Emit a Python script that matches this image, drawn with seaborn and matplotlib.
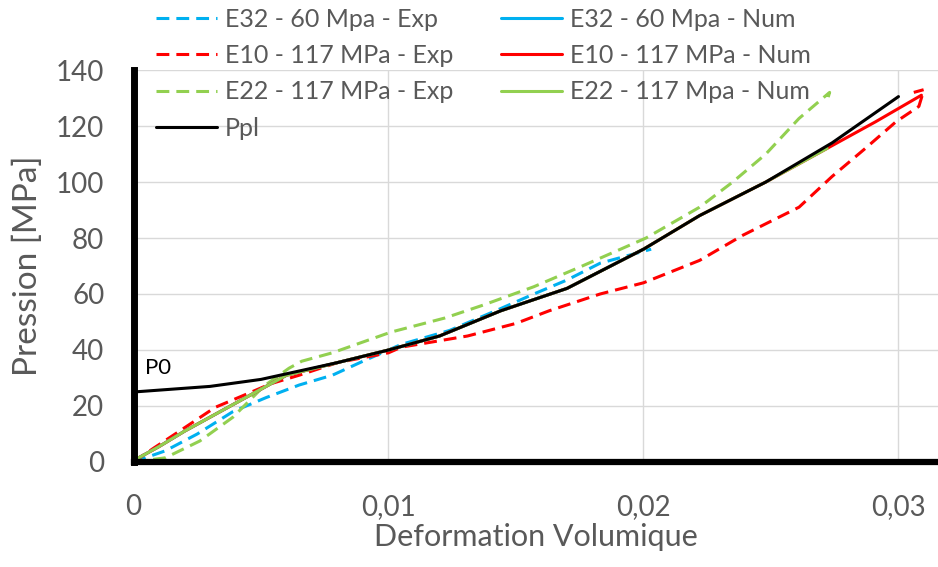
import numpy as np
import matplotlib
matplotlib.use('Agg')
import matplotlib.pyplot as plt
import seaborn as sns
from matplotlib.lines import Line2D

# --- data ---
ppl_x = [0, 0.003, 0.005, 0.0065, 0.008, 0.01, 0.012, 0.0144, 0.017, 0.02, 0.0222, 0.0248, 0.0274, 0.03]
ppl_y = [25, 27, 29.5, 32.5, 35.5, 40, 45, 54, 62, 76, 88, 100, 114, 130.5]

e32_num_x = [0, 0.001, 0.002, 0.003, 0.004, 0.005, 0.006, 0.008, 0.01, 0.012, 0.0144, 0.017, 0.02]
e32_num_y = [0.5, 5.5, 11, 16, 21, 26, 31, 35.5, 40, 45, 54, 62, 76]

e10_num_x = [0, 0.001, 0.002, 0.003, 0.004, 0.005, 0.006, 0.008, 0.01, 0.012, 0.0144, 0.017, 0.02,
             0.0222, 0.0248, 0.0274, 0.0291, 0.0309]
e10_num_y = [0.5, 5.5, 11, 16, 21, 26, 31, 35.5, 40, 45, 54, 62, 76, 88, 100, 113, 121.5, 131]

e22_num_x = [0, 0.001, 0.002, 0.003, 0.004, 0.005, 0.006, 0.008, 0.01, 0.012, 0.0144, 0.017, 0.02,
             0.0222, 0.0248, 0.0272]
e22_num_y = [0.5, 5.5, 11, 16, 21, 26, 31, 35.5, 40, 45, 54, 62, 76, 88, 100, 112]

e32_exp_x = [0, 0.00125, 0.0025, 0.0039, 0.0052, 0.0065, 0.0078, 0.009, 0.0105, 0.0124, 0.0142,
             0.0157, 0.017, 0.0183, 0.0203]
e32_exp_y = [0, 4, 10, 18, 23, 27.5, 31, 36, 42, 47, 54, 60, 65, 71, 76]

e10_exp_x = [0, 0.0008, 0.0018, 0.0032, 0.0045, 0.0054, 0.0065, 0.008, 0.01, 0.0105, 0.0131, 0.015,
             0.0163, 0.0183, 0.02, 0.0222, 0.0239, 0.0261, 0.0274, 0.0287, 0.0299, 0.0308, 0.031, 0.0306]
e10_exp_y = [0, 5, 11, 19.5, 24.5, 28, 31, 35.5, 39, 41, 45, 49.5, 54, 60, 64, 72, 81, 91, 102, 112,
             121.5, 127, 133, 132]

e22_exp_x = [0, 0.00125, 0.0026, 0.0039, 0.0051, 0.0061, 0.0066, 0.0078, 0.0101, 0.0122, 0.0137,
             0.0157, 0.0176, 0.0201, 0.0222, 0.0235, 0.0248, 0.0261, 0.0273, 0.0272]
e22_exp_y = [0, 1.5, 7.5, 16, 27, 33.5, 36, 39, 46.4, 51.4, 56, 62.6, 70, 80, 91, 100, 110, 122.7, 132, 129]

x_ticks = [0, 0.01, 0.02, 0.03]
x_tick_labels = ['0', '0,01', '0,02', '0,03']
y_ticks = [0, 20, 40, 60, 80, 100, 120, 140]

blue = '#00b0f0'
red = '#ff0000'
green = '#92d050'
grey = '#595959'

sns.set_theme(style='whitegrid')
plt.rcParams['font.family'] = ['Lato', 'DejaVu Sans']

fig = plt.figure(figsize=(9.38, 5.67), dpi=100)
ax = fig.add_axes([133.5/938, 105/567, (938-133.5)/938, 392/567])

lw = 2.2
dash = (4.2, 2.3)
exp_series = [
    (e32_exp_x, e32_exp_y, blue, 'E32 - 60 Mpa - Exp'),
    (e10_exp_x, e10_exp_y, red, 'E10 - 117 MPa - Exp'),
    (e22_exp_x, e22_exp_y, green, 'E22 - 117 MPa - Exp'),
]
num_series = [
    (e32_num_x, e32_num_y, blue, 'E32 - 60 Mpa - Num'),
    (e10_num_x, e10_num_y, red, 'E10 - 117 MPa - Num'),
    (e22_num_x, e22_num_y, green, 'E22 - 117 Mpa - Num'),
]

for xs, ys, c, lab in exp_series:
    sns.lineplot(x=xs, y=ys, ax=ax, sort=False, estimator=None, color=c, lw=lw,
                 dashes=False, linestyle=(0, dash))
for xs, ys, c, lab in num_series:
    sns.lineplot(x=xs, y=ys, ax=ax, sort=False, estimator=None, color=c, lw=lw)
sns.lineplot(x=ppl_x, y=ppl_y, ax=ax, sort=False, estimator=None, color='black', lw=lw)

ax.text(0.00045, 33.7, 'P0', fontsize=16, color='black', va='center', ha='left')

ax.set_xlim(0, 0.03155)
ax.set_ylim(0, 140)
ax.set_xticks(x_ticks)
ax.set_xticklabels(x_tick_labels)
ax.set_yticks(y_ticks)
ax.grid(True, color='#d9d9d9', lw=1)
ax.tick_params(axis='both', length=0, labelsize=20, labelcolor=grey)
ax.tick_params(axis='x', pad=23)
ax.tick_params(axis='y', pad=21)
for s in ['top', 'right']:
    ax.spines[s].set_visible(False)
ax.spines['left'].set_color('black')
ax.spines['left'].set_linewidth(5)
ax.spines['bottom'].set_color('black')
ax.spines['bottom'].set_linewidth(4.5)
ax.set_xlabel('Deformation Volumique', fontsize=22, color=grey, labelpad=2)
ax.set_ylabel('Pression [MPa]', fontsize=24, color=grey, labelpad=9)

handles = [Line2D([], [], color=c, lw=lw, linestyle=(0, dash)) for _, _, c, _ in exp_series]
handles.append(Line2D([], [], color='black', lw=lw))
handles += [Line2D([], [], color=c, lw=lw) for _, _, c, _ in num_series]
labels = [s[3] for s in exp_series] + ['Ppl'] + [s[3] for s in num_series]
leg = fig.legend(handles, labels, loc='upper left', bbox_to_anchor=(156/938, 0.986), ncol=2,
                 frameon=False, fontsize=18, handlelength=2.44, handletextpad=0.32,
                 columnspacing=1.9, labelspacing=0.53, borderaxespad=0, borderpad=0)
for t in leg.get_texts():
    t.set_color(grey)

fig.savefig('out.png', dpi=100)
